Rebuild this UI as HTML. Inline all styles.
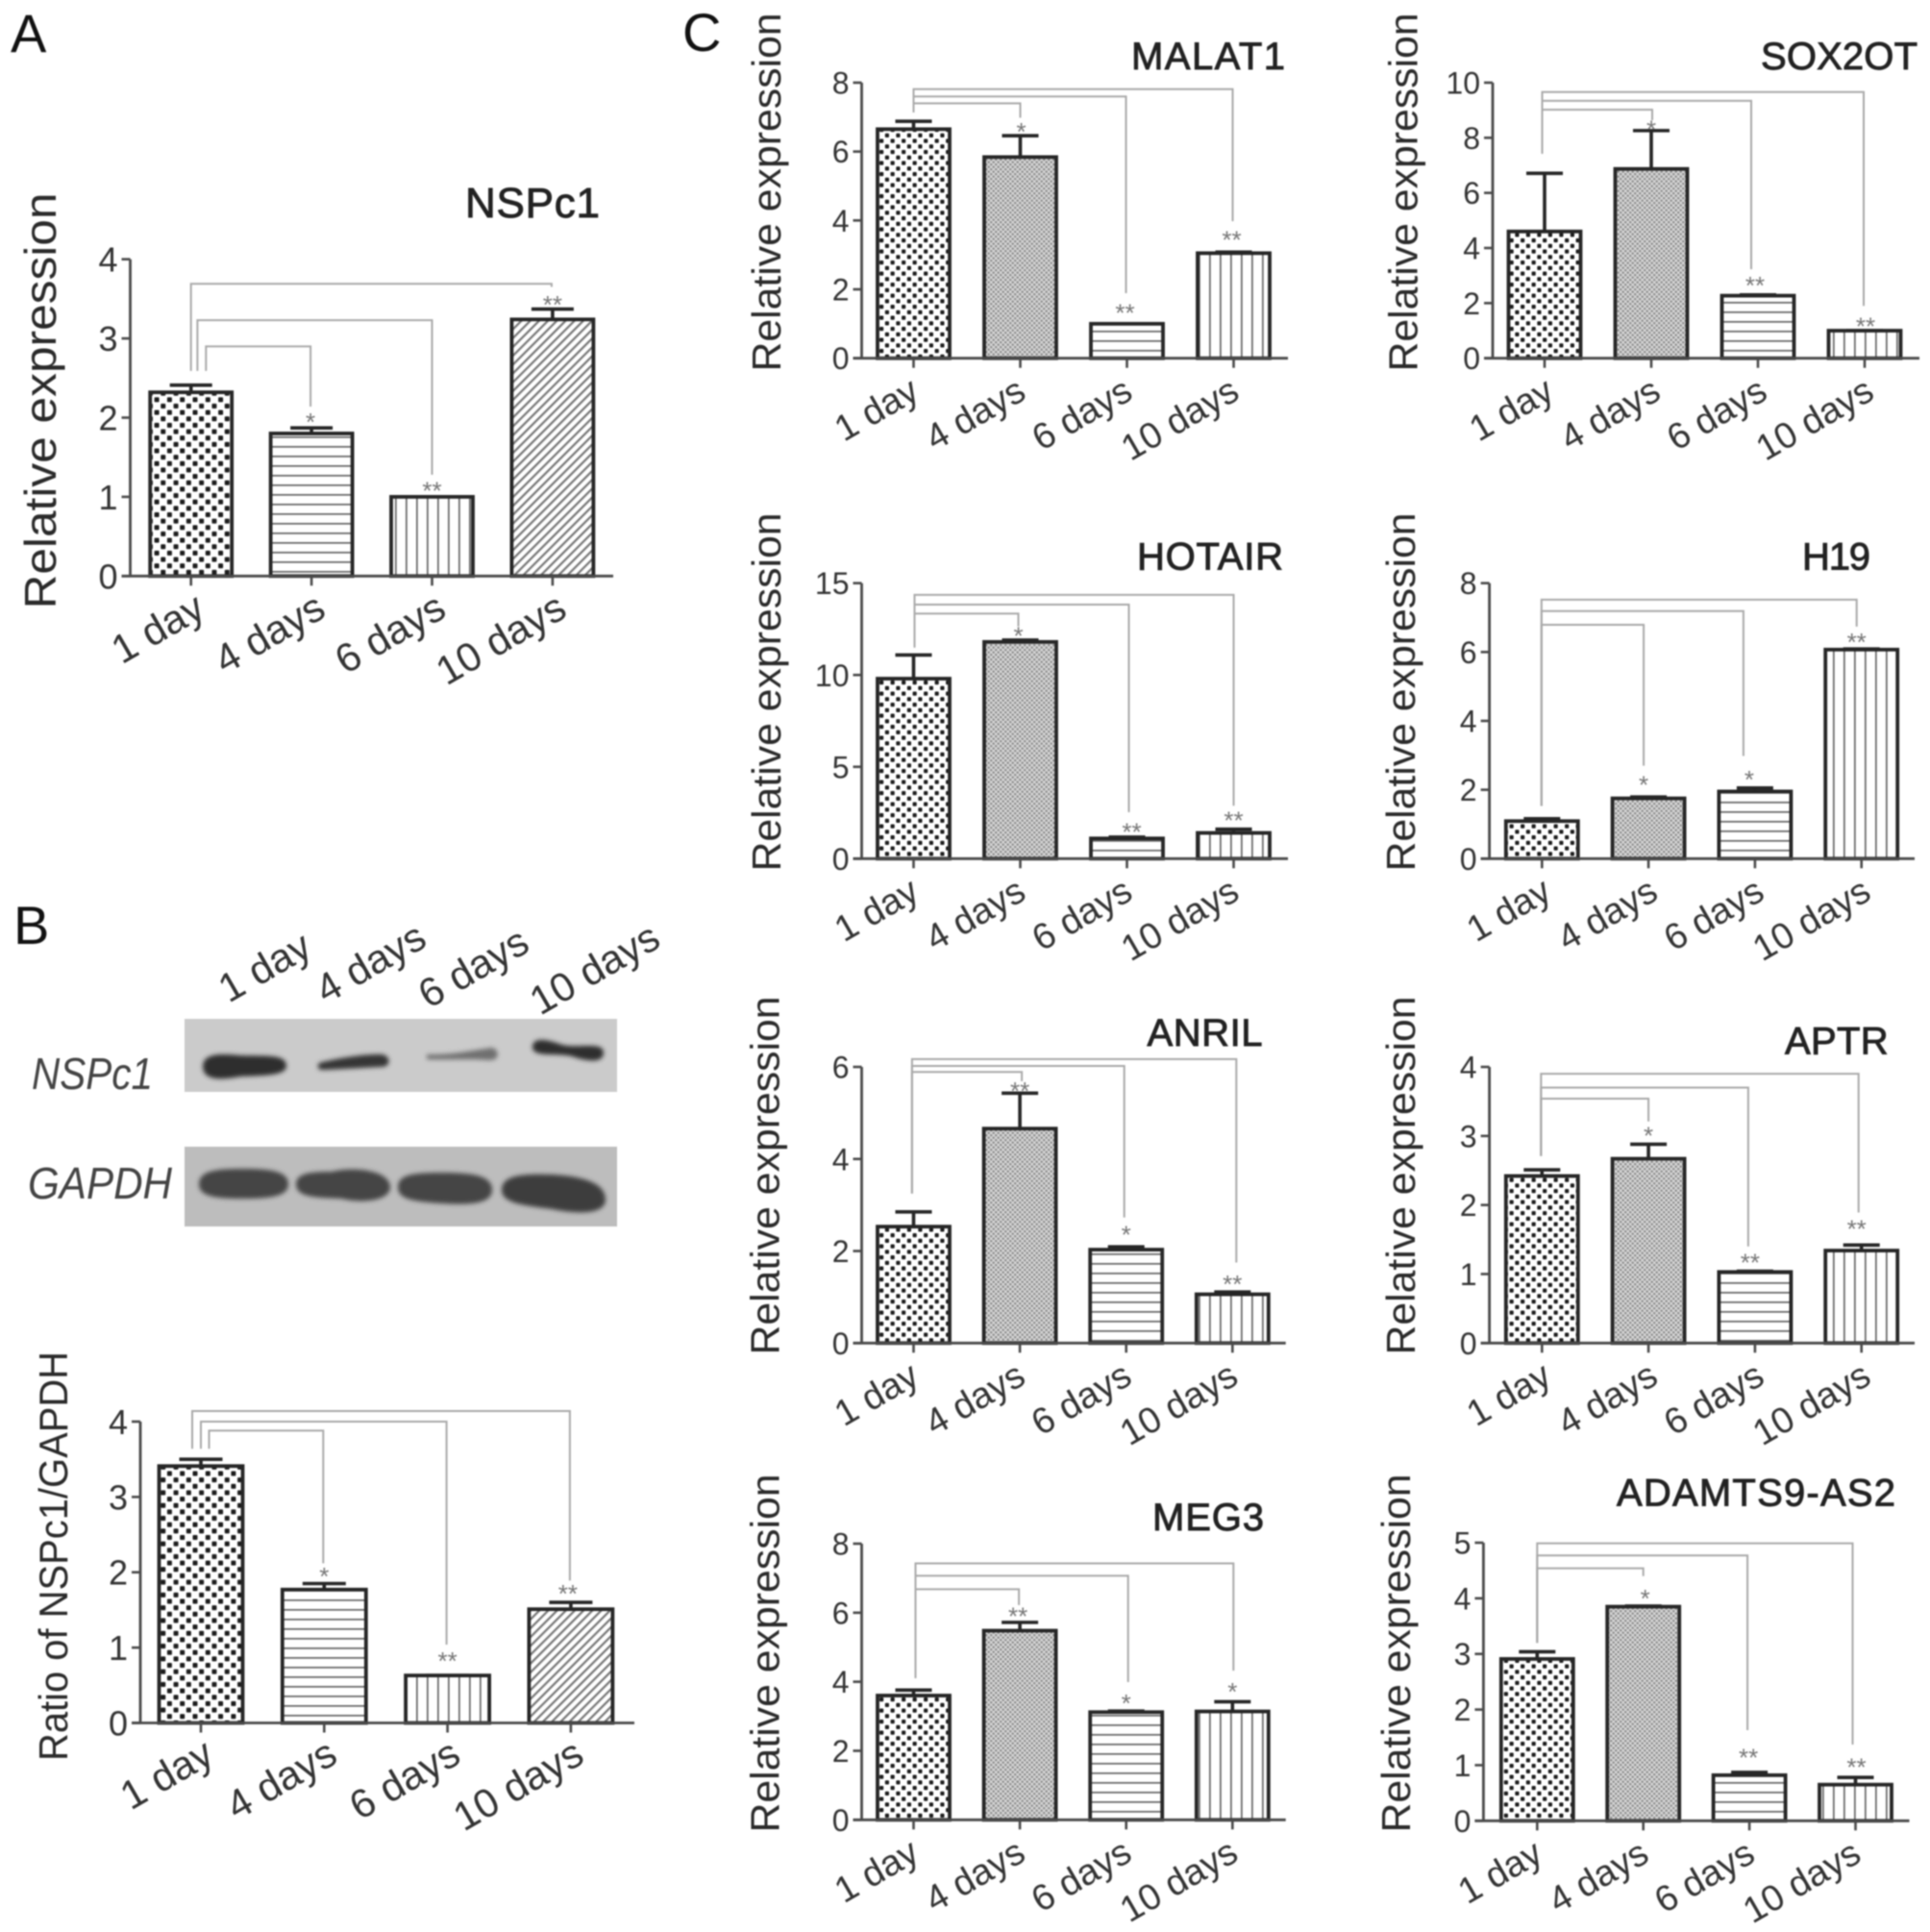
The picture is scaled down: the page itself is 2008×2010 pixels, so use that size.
<!DOCTYPE html>
<html lang="en">
<head>
<meta charset="utf-8">
<title>NSPc1 and lncRNA relative expression</title>
<style>
html,body{margin:0;padding:0;background:#fff;width:2008px;height:2010px;overflow:hidden}
svg{display:block;filter:blur(.7px)}
text{font-family:"Liberation Sans",Arial,sans-serif}
</style>
</head>
<body>
<svg id="figure" xmlns="http://www.w3.org/2000/svg" width="2008" height="2010" viewBox="0 0 2008 2010">
<defs>
<pattern id="dotsL" width="13.3" height="13.3" patternUnits="userSpaceOnUse"><rect width="13.3" height="13.3" fill="#fff"/><rect x="1" y="1" width="5" height="5" rx="1" fill="#1c1c1c"/><rect x="7.65" y="7.65" width="5" height="5" rx="1" fill="#1c1c1c"/></pattern>
<pattern id="dots" width="11.5" height="11.5" patternUnits="userSpaceOnUse"><rect width="11.5" height="11.5" fill="#fff"/><rect x=".8" y=".8" width="4.2" height="4.2" rx="1" fill="#1c1c1c"/><rect x="6.55" y="6.55" width="4.2" height="4.2" rx="1" fill="#1c1c1c"/></pattern>
<pattern id="gray" width="5" height="5" patternUnits="userSpaceOnUse"><rect width="5" height="5" fill="#d6d6d6"/><circle cx="1.2" cy="1.2" r="1.2" fill="#868686"/><circle cx="3.7" cy="3.7" r="1.2" fill="#868686"/></pattern>
<pattern id="hlines" width="10" height="10" patternUnits="userSpaceOnUse"><rect width="10" height="10" fill="#fff"/><rect y="4" width="10" height="1.7" fill="#666"/></pattern>
<pattern id="vlines" width="11" height="11" patternUnits="userSpaceOnUse"><rect width="11" height="11" fill="#fff"/><rect x="4" width="1.7" height="11" fill="#666"/></pattern>
<pattern id="diag" width="6.5" height="6.5" patternUnits="userSpaceOnUse" patternTransform="rotate(-45)"><rect width="6.5" height="6.5" fill="#fff"/><rect y="1" width="6.5" height="2.2" fill="#777"/></pattern>
<filter id="bandBlur" x="-20%" y="-60%" width="140%" height="220%"><feGaussianBlur stdDeviation="2.4"/></filter>
</defs>

<text x="11" y="54" font-size="56" fill="#111">A</text>
<text x="14" y="982" font-size="56" fill="#111">B</text>
<text x="710" y="53" font-size="56" fill="#111">C</text>

<g>
  <rect x="192" y="1060" width="450" height="76" fill="#cbcbcb"/>
  <rect x="192" y="1193" width="450" height="83" fill="#bdbdbd"/>
  <g filter="url(#bandBlur)">
    <path d="M211 1109 C212 1096 228 1096 250 1098 C275 1099 298 1096 298 1109 C298 1119 275 1119 250 1120 C228 1124 211 1124 211 1109Z" fill="#2d2d2d"/>
    <path d="M332 1106 C345 1102 380 1096 398 1097 C407 1099 407 1110 397 1110 C375 1111 345 1113 335 1113 C330 1113 330 1108 332 1106Z" fill="#353535"/>
    <path d="M444 1097 C470 1098 495 1092 512 1090 C520 1092 520 1103 510 1103 C490 1101 465 1103 444 1102Z" fill="#707070"/>
    <path d="M554 1088 C556 1079 568 1081 585 1087 C600 1091 628 1083 628 1095 C628 1107 610 1104 595 1099 C580 1095 552 1101 554 1088Z" fill="#2d2d2d"/>
    <path d="M207 1232 C207 1218 225 1216 252 1216 C280 1216 300 1218 300 1232 C300 1245 280 1247 252 1247 C225 1247 207 1245 207 1232Z" fill="#444"/>
    <path d="M308 1232 C308 1220 325 1219 345 1219 C365 1214 405 1216 406 1235 C406 1250 375 1252 355 1247 C330 1246 308 1246 308 1232Z" fill="#444"/>
    <path d="M414 1235 C414 1222 430 1220 460 1220 C495 1220 512 1224 512 1238 C512 1252 490 1254 460 1252 C430 1250 414 1248 414 1235Z" fill="#444"/>
    <path d="M522 1238 C522 1222 545 1221 575 1222 C610 1224 630 1232 630 1248 C630 1264 600 1263 575 1258 C545 1254 522 1252 522 1238Z" fill="#3e3e3e"/>
  </g>
  <text x="33" y="1133" font-size="46" font-style="italic" fill="#444" textLength="126" lengthAdjust="spacingAndGlyphs">NSPc1</text>
  <text x="29" y="1247" font-size="46" font-style="italic" fill="#444" textLength="150" lengthAdjust="spacingAndGlyphs">GAPDH</text>
  <text transform="translate(238 1044) rotate(-30)" font-size="42" fill="#333">1 day</text>
  <text transform="translate(339 1045) rotate(-30)" font-size="42" fill="#333">4 days</text>
  <text transform="translate(446 1050) rotate(-30)" font-size="42" fill="#333">6 days</text>
  <text transform="translate(562 1057) rotate(-30)" font-size="42" fill="#333">10 days</text>
</g>
</svg>

<script>
// Shared category labels
const dayLabels = ['1 day', '4 days', '6 days', '10 days'];

// Panel A: NSPc1
const nspc1Means = [2.32, 1.80, 1.00, 3.24];
const nspc1Upper = [2.41, 1.87, 1.00, 3.37];
const nspc1Ticks = [0, 1, 2, 3, 4];
const nspc1Stars = ['*', '**', '**'];
const nspc1StarLevels = [2.02, 1.15, 3.50];
const nspc1BracketTops = [2.90, 3.23, 3.69];
const nspc1BracketFoots = [2.14, 1.28, 3.65];
const nspc1BracketStart = 2.59;

// Panel B: ratio of NSPc1 to GAPDH
const ratioMeans = [3.41, 1.77, 0.63, 1.51];
const ratioUpper = [3.50, 1.85, 0.63, 1.60];
const ratioTicks = [0, 1, 2, 3, 4];
const ratioStars = ['*', '**', '**'];
const ratioStarLevels = [2.02, 0.90, 1.79];
const ratioBracketTops = [3.88, 4.00, 4.14];
const ratioBracketFoots = [2.12, 1.04, 1.89];
const ratioBracketStart = 3.64;

// Panel C: MALAT1
const malat1Means = [6.65, 5.84, 1.00, 3.05];
const malat1Upper = [6.88, 6.46, 1.00, 3.08];
const malat1Ticks = [0, 2, 4, 6, 8];
const malat1Stars = ['*', '**', '**'];
const malat1StarLevels = [6.74, 1.49, 3.60];
const malat1BracketTops = [7.40, 7.60, 7.81];
const malat1BracketFoots = [6.98, 1.89, 3.98];
const malat1BracketStart = 7.14;

// Panel C: SOX2OT
const sox2otMeans = [4.60, 6.87, 2.27, 1.00];
const sox2otUpper = [6.71, 8.26, 2.30, 1.00];
const sox2otTicks = [0, 2, 4, 6, 8, 10];
const sox2otStars = ['*', '**', '**'];
const sox2otStarLevels = [8.51, 2.85, 1.37];
const sox2otBracketTops = [9.02, 9.34, 9.66];
const sox2otBracketFoots = [8.64, 3.23, 1.90];
const sox2otBracketStart = 7.42;

// Panel C: HOTAIR
const hotairMeans = [9.80, 11.80, 1.10, 1.40];
const hotairUpper = [11.09, 11.90, 1.17, 1.60];
const hotairTicks = [0, 5, 10, 15];
const hotairStars = ['*', '**', '**'];
const hotairStarLevels = [12.44, 1.78, 2.40];
const hotairBracketTops = [13.34, 13.83, 14.36];
const hotairBracketFoots = [12.64, 2.53, 2.88];
const hotairBracketStart = 11.50;

// Panel C: H19
const h19Means = [1.09, 1.75, 1.95, 6.07];
const h19Upper = [1.16, 1.79, 2.05, 6.09];
const h19Ticks = [0, 2, 4, 6, 8];
const h19Stars = ['*', '*', '**'];
const h19StarLevels = [2.31, 2.47, 6.46];
const h19BracketTops = [6.79, 7.19, 7.52];
const h19BracketFoots = [2.70, 2.98, 6.74];
const h19BracketStart = 1.53;

// Panel C: ANRIL
const anrilMeans = [2.53, 4.66, 2.03, 1.06];
const anrilUpper = [2.85, 5.43, 2.09, 1.11];
const anrilTicks = [0, 2, 4, 6];
const anrilStars = ['**', '*', '**'];
const anrilStarLevels = [5.60, 2.48, 1.41];
const anrilBracketTops = [5.89, 6.02, 6.17];
const anrilBracketFoots = [5.69, 2.73, 1.75];
const anrilBracketStart = 3.25;

// Panel C: APTR
const aptrMeans = [2.42, 2.67, 1.03, 1.34];
const aptrUpper = [2.51, 2.88, 1.04, 1.42];
const aptrTicks = [0, 1, 2, 3, 4];
const aptrStars = ['*', '**', '**'];
const aptrStarLevels = [3.09, 1.25, 1.74];
const aptrBracketTops = [3.54, 3.70, 3.90];
const aptrBracketFoots = [3.21, 1.40, 1.89];
const aptrBracketStart = 2.71;

// Panel C: MEG3
const meg3Means = [3.60, 5.48, 3.12, 3.14];
const meg3Upper = [3.76, 5.72, 3.15, 3.42];
const meg3Ticks = [0, 2, 4, 6, 8];
const meg3Stars = ['**', '*', '*'];
const meg3StarLevels = [6.06, 3.55, 3.88];
const meg3BracketTops = [6.68, 7.07, 7.43];
const meg3BracketFoots = [6.22, 3.99, 4.32];
const meg3BracketStart = 4.10;

// Panel C: ADAMTS9-AS2
const adamtsMeans = [2.91, 3.85, 0.82, 0.65];
const adamtsUpper = [3.04, 3.86, 0.87, 0.78];
const adamtsTicks = [0, 1, 2, 3, 4, 5];
const adamtsStars = ['*', '**', '**'];
const adamtsStarLevels = [4.10, 1.24, 1.07];
const adamtsBracketTops = [4.54, 4.77, 4.99];
const adamtsBracketFoots = [4.40, 1.63, 1.37];
const adamtsBracketStart = 3.20;

const NS = 'http://www.w3.org/2000/svg';
const figure = document.getElementById('figure');
const INK = '#262626';
const AXIS = '#4a4a4a';
const GUIDE = '#a9a9a9';

function mk(tag, attrs, parent) {
  const el = document.createElementNS(NS, tag);
  for (const k in attrs) el.setAttribute(k, attrs[k]);
  parent.appendChild(el);
  return el;
}

function drawChart(c) {
  const yScale = v => c.y0 - (v / c.yMax) * (c.y0 - c.yTop);
  const xScale = i => c.cx0 + i * c.step;

  const g = mk('g', {}, figure);
  
  

  // Guide brackets behind the bars
  c.bracketTops.forEach((top, k) => {
    const left = xScale(0) + c.leftShift[k];
    const right = xScale(k + 1) + c.rightShift[k];
    const path = mk('path', {
      d: 'M' + left + ' ' + yScale(c.bracketStart) + 'V' + yScale(top) + 'H' + right + 'V' + yScale(c.bracketFoots[k]),
      fill: 'none', stroke: GUIDE, 'stroke-width': 2
    }, g);
    
    
  });

  // Bars and error bars
  c.means.forEach((m, i) => {
    const cx = xScale(i);
    const errLine = mk('path', {
      d: 'M' + cx + ' ' + yScale(m) + 'V' + yScale(c.upper[i]) + 'M' + (cx - c.capW / 2) + ' ' + yScale(c.upper[i]) + 'H' + (cx + c.capW / 2),
      fill: 'none', stroke: INK, 'stroke-width': 3.6
    }, g);
    
    

    const bar = mk('rect', {
      x: cx - c.barW / 2, y: yScale(m), width: c.barW, height: c.y0 - yScale(m),
      fill: 'url(#' + c.fills[i] + ')', stroke: INK, 'stroke-width': 3.8
    }, g);
    
    
  });

  // Axes
  const yAxis = mk('line', {x1: c.ax, x2: c.ax, y1: c.yTop, y2: c.y0, stroke: AXIS, 'stroke-width': 2.8}, g);
  
  

  const xAxis = mk('line', {x1: c.ax - 9, x2: c.xEnd, y1: c.y0, y2: c.y0, stroke: AXIS, 'stroke-width': 2.8}, g);
  
  

  c.ticks.forEach(t => {
    const tickMark = mk('line', {x1: c.ax - 9, x2: c.ax, y1: yScale(t), y2: yScale(t), stroke: AXIS, 'stroke-width': 2.6}, g);
    
    

    const tickText = mk('text', {x: c.ax - c.tickGap, y: yScale(t) + c.tickSize * 0.36, 'text-anchor': 'end', 'font-size': c.tickSize, fill: '#333'}, g);
    tickText.textContent = t;
    
    
  });

  dayLabels.forEach((label, i) => {
    const cx = xScale(i);
    const tickMark = mk('line', {x1: cx, x2: cx, y1: c.y0, y2: c.y0 + 10, stroke: AXIS, 'stroke-width': 2.6}, g);
    
    

    const catText = mk('text', {
      transform: 'translate(' + (cx + c.labelDx) + ' ' + (c.y0 + c.labelDy) + ') rotate(-30)',
      'text-anchor': 'end', 'font-size': c.labelSize, fill: '#333'
    }, g);
    catText.textContent = label;
    
    
  });

  // Significance stars
  c.stars.forEach((s, k) => {
    const star = mk('text', {
      x: xScale(k + 1) + c.starShift[k], y: yScale(c.starLevels[k]) + 15,
      'text-anchor': 'middle', 'font-size': 26, fill: '#777'
    }, g);
    star.textContent = s;
    
    
  });

  // Titles
  const yTitle = mk('text', {
    transform: 'translate(' + c.yTitleX + ' ' + c.yTitleY + ') rotate(-90)',
    'text-anchor': 'middle', 'font-size': c.yTitleSize, fill: '#2a2a2a',
    textLength: c.yTitleLen, lengthAdjust: 'spacingAndGlyphs'
  }, g);
  yTitle.textContent = c.yTitle;
  
  

  const title = mk('text', {
    x: c.titleX, y: c.titleY, 'font-size': c.titleSize, fill: '#222', stroke: '#222', 'stroke-width': 0.9,
    textLength: c.titleW, lengthAdjust: 'spacing'
  }, g);
  title.textContent = c.title;
  
  
}

const leftFills = ['dotsL', 'hlines', 'vlines', 'diag'];
const rightFills = ['dots', 'gray', 'hlines', 'vlines'];
const RE = 'Relative expression';

function panelStyle() {
  return {barW: 75, capW: 38, tickGap: 13, tickSize: 32, labelSize: 38, labelDx: 8, labelDy: 41, yTitle: RE, yTitleSize: 42, yTitleLen: 373, titleSize: 40, fills: rightFills};
}

drawChart({name: 'nspc1', title: 'NSPc1', titleX: 484, titleY: 226, titleW: 140, titleSize: 44,
  means: nspc1Means, upper: nspc1Upper, ticks: nspc1Ticks, stars: nspc1Stars, starLevels: nspc1StarLevels,
  bracketTops: nspc1BracketTops, bracketFoots: nspc1BracketFoots, bracketStart: nspc1BracketStart,
  ax: 135.5, y0: 599.3, yTop: 269.7, yMax: 4, xEnd: 638, cx0: 198.7, step: 125.4, barW: 85, capW: 44,
  tickGap: 13, tickSize: 36, labelSize: 42, labelDx: 17, labelDy: 41, fills: leftFills,
  leftShift: [15.6, 6.7, 0], rightShift: [-1, 0, -1], starShift: [-1, 0, 0],
  yTitle: RE, yTitleX: 58, yTitleY: 417, yTitleSize: 46, yTitleLen: 433});

drawChart({name: 'nspc1-gapdh-ratio', title: '', titleX: 0, titleY: 0, titleW: 0, titleSize: 44,
  means: ratioMeans, upper: ratioUpper, ticks: ratioTicks, stars: ratioStars, starLevels: ratioStarLevels,
  bracketTops: ratioBracketTops, bracketFoots: ratioBracketFoots, bracketStart: ratioBracketStart,
  ax: 146, y0: 1792.5, yTop: 1479, yMax: 4, xEnd: 660, cx0: 209, step: 128.3, barW: 87, capW: 45,
  tickGap: 13, tickSize: 36, labelSize: 42, labelDx: 16, labelDy: 40, fills: leftFills,
  leftShift: [8.5, 0, -9], rightShift: [-1, -1, -1], starShift: [0, 0, -3],
  yTitle: 'Ratio of NSPc1/GAPDH', yTitleX: 70, yTitleY: 1619, yTitleSize: 42, yTitleLen: 426});

drawChart(Object.assign(panelStyle(), {name: 'malat1', title: 'MALAT1', titleX: 1177, titleY: 72, titleW: 160,
  means: malat1Means, upper: malat1Upper, ticks: malat1Ticks, stars: malat1Stars, starLevels: malat1StarLevels,
  bracketTops: malat1BracketTops, bracketFoots: malat1BracketFoots, bracketStart: malat1BracketStart,
  ax: 896.5, y0: 372.7, yTop: 86, yMax: 8, xEnd: 1340, cx0: 950.5, step: 111,
  leftShift: [0, 0, 0], rightShift: [0, -1, -1], starShift: [1, -2, -2], yTitleX: 811.8, yTitleY: 200}));

drawChart(Object.assign(panelStyle(), {name: 'sox2ot', title: 'SOX2OT', titleX: 1832, titleY: 72, titleW: 163, labelDx: 12,
  means: sox2otMeans, upper: sox2otUpper, ticks: sox2otTicks, stars: sox2otStars, starLevels: sox2otStarLevels,
  bracketTops: sox2otBracketTops, bracketFoots: sox2otBracketFoots, bracketStart: sox2otBracketStart,
  ax: 1553, y0: 372.7, yTop: 86, yMax: 10, xEnd: 1997, cx0: 1607, step: 111,
  leftShift: [-2.5, -2.5, -2.5], rightShift: [1, -7, -1], starShift: [0, -3, 1], yTitleX: 1474.7, yTitleY: 200}));

drawChart(Object.assign(panelStyle(), {name: 'hotair', title: 'HOTAIR', titleX: 1183, titleY: 592.7, titleW: 152,
  means: hotairMeans, upper: hotairUpper, ticks: hotairTicks, stars: hotairStars, starLevels: hotairStarLevels,
  bracketTops: hotairBracketTops, bracketFoots: hotairBracketFoots, bracketStart: hotairBracketStart,
  ax: 896.5, y0: 893.3, yTop: 606.7, yMax: 15, xEnd: 1340, cx0: 950.5, step: 111,
  leftShift: [1, 1, 1], rightShift: [-2, 2, 0], starShift: [-2, 5, 0], yTitleX: 811.8, yTitleY: 720}));

drawChart(Object.assign(panelStyle(), {name: 'h19', title: 'H19', titleX: 1875, titleY: 592.7, titleW: 71, labelDx: 12,
  means: h19Means, upper: h19Upper, ticks: h19Ticks, stars: h19Stars, starLevels: h19StarLevels,
  bracketTops: h19BracketTops, bracketFoots: h19BracketFoots, bracketStart: h19BracketStart,
  ax: 1549.6, y0: 893.3, yTop: 606.7, yMax: 8, xEnd: 1992, cx0: 1604.3, step: 110.8,
  leftShift: [-0.5, -0.5, -0.5], rightShift: [-5, -12, -5], starShift: [-5, -6, -5], yTitleX: 1471.8, yTitleY: 720}));

drawChart(Object.assign(panelStyle(), {name: 'anril', title: 'ANRIL', titleX: 1193.5, titleY: 1088, titleW: 120,
  means: anrilMeans, upper: anrilUpper, ticks: anrilTicks, stars: anrilStars, starLevels: anrilStarLevels,
  bracketTops: anrilBracketTops, bracketFoots: anrilBracketFoots, bracketStart: anrilBracketStart,
  ax: 896.5, y0: 1397.3, yTop: 1110, yMax: 6, xEnd: 1337.7, cx0: 950.5, step: 110.6,
  leftShift: [-1.6, -1.6, -1.6], rightShift: [2, -2, 4], starShift: [0, 0, 0], yTitleX: 810.5, yTitleY: 1223}));

drawChart(Object.assign(panelStyle(), {name: 'aptr', title: 'APTR', titleX: 1857, titleY: 1096.7, titleW: 107.6, labelDx: 12,
  means: aptrMeans, upper: aptrUpper, ticks: aptrTicks, stars: aptrStars, starLevels: aptrStarLevels,
  bracketTops: aptrBracketTops, bracketFoots: aptrBracketFoots, bracketStart: aptrBracketStart,
  ax: 1549.6, y0: 1397.3, yTop: 1110, yMax: 4, xEnd: 1992, cx0: 1604.3, step: 110.8,
  leftShift: [-1, -1, -1], rightShift: [0, -7, -3], starShift: [0, -5, -5], yTitleX: 1471.8, yTitleY: 1223}));

drawChart(Object.assign(panelStyle(), {name: 'meg3', title: 'MEG3', titleX: 1199, titleY: 1592, titleW: 116,
  means: meg3Means, upper: meg3Upper, ticks: meg3Ticks, stars: meg3Stars, starLevels: meg3StarLevels,
  bracketTops: meg3BracketTops, bracketFoots: meg3BracketFoots, bracketStart: meg3BracketStart,
  ax: 896.5, y0: 1893.3, yTop: 1606, yMax: 8, xEnd: 1337.7, cx0: 950.5, step: 110.6,
  leftShift: [2, 2, 2], rightShift: [-1, 2, 1], starShift: [-2, 0, 0], yTitleX: 810.5, yTitleY: 1720}));

drawChart(Object.assign(panelStyle(), {name: 'adamts9-as2', title: 'ADAMTS9-AS2', titleX: 1682, titleY: 1566.7, titleW: 290,
  means: adamtsMeans, upper: adamtsUpper, ticks: adamtsTicks, stars: adamtsStars, starLevels: adamtsStarLevels,
  bracketTops: adamtsBracketTops, bracketFoots: adamtsBracketFoots, bracketStart: adamtsBracketStart,
  ax: 1543.4, y0: 1894.3, yTop: 1605, yMax: 5, xEnd: 1986.5, cx0: 1599.3, step: 110.4,
  leftShift: [0, 0, 0], rightShift: [0, -2, -3], starShift: [2, -1, 1], yTitleX: 1466.8, yTitleY: 1720}));
</script>
</body>
</html>
